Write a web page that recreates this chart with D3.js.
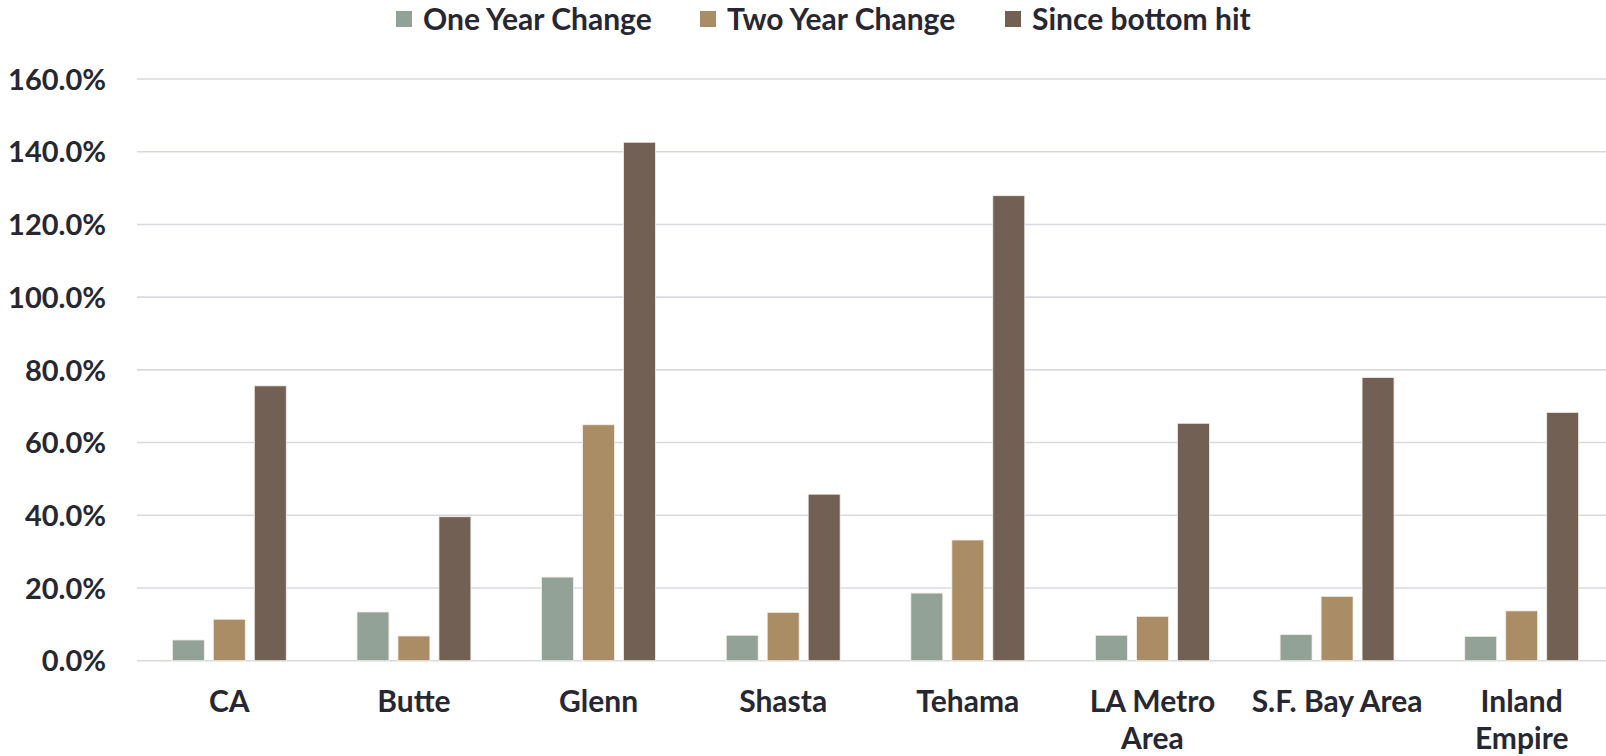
<!DOCTYPE html>
<html>
<head>
<meta charset="utf-8">
<script src="https://cdn.jsdelivr.net/npm/d3@7"></script>
<style>
	html, body { margin: 0; padding: 0; background: #fff; }
	svg { display: block; }
	text { font-family: Lato, 'Open Sans', sans-serif; font-weight: 700; fill: #272731; }
</style>
</head>
<body>
<svg id="chart"></svg>
<script>
const categories = ['CA', 'Butte', 'Glenn', 'Shasta', 'Tehama', 'LA Metro Area', 'S.F. Bay Area', 'Inland Empire']
const categoryLines = [['CA'], ['Butte'], ['Glenn'], ['Shasta'], ['Tehama'], ['LA Metro', 'Area'], ['S.F. Bay Area'], ['Inland', 'Empire']]

const seriesNames = ['One Year Change', 'Two Year Change', 'Since bottom hit']
const seriesColors = ['#93a297', '#ab8d65', '#736055']

// percent values
const oneYear = [5.7, 13.4, 23.0, 7.0, 18.6, 7.0, 7.2, 6.7]
const twoYear = [11.4, 6.8, 64.9, 13.3, 33.2, 12.2, 17.7, 13.7]
const sinceBottom = [75.6, 39.6, 142.6, 45.8, 127.9, 65.3, 77.9, 68.3]

const yTicks = [0, 20, 40, 60, 80, 100, 120, 140, 160]

const width = 1606
const height = 756

const $svg = d3.select('#chart')
	.attr('width', width)
	.attr('height', height)

const $gGrid = $svg.append('g').attr('class', 'g-grid')
const $gAxes = $svg.append('g').attr('class', 'g-axes')
const $gViz = $svg.append('g').attr('class', 'g-viz')
const $gLegend = $svg.append('g').attr('class', 'g-legend')

const scaleX = d3.scaleBand()
const scaleSeries = d3.scaleBand()
const scaleY = d3.scaleLinear()

function buildRows() {
	return categories.map((c, i) => ({
		category: c,
		lines: categoryLines[i],
		values: [oneYear[i], twoYear[i], sinceBottom[i]]
	}))
}

function setupScales() {
	scaleX
		.domain(categories)
		.range([137, 1614])
		.paddingInner(0.383)
		.paddingOuter(0.1915)

	scaleSeries
		.domain(d3.range(seriesNames.length))
		.range([0, scaleX.bandwidth()])
		.paddingInner(0.22)
		.paddingOuter(0)

	scaleY
		.domain([0, 160])
		.range([660.7, 79])
}

function drawGrid() {
	$gGrid.selectAll('line')
		.data(yTicks)
		.join('line')
		.attr('x1', scaleX.range()[0])
		.attr('x2', scaleX.range()[1])
		.attr('y1', d => scaleY(d))
		.attr('y2', d => scaleY(d))
		.attr('stroke', '#dad9e1')
		.attr('stroke-width', 1.6)
}

function drawAxes() {
	const axisY = d3.axisLeft(scaleY)
		.tickValues(yTicks)
		.tickFormat(d => d3.format('.1f')(d) + '%')
		.tickSize(0)
		.tickPadding(0)

	$gAxes.append('g')
		.attr('transform', 'translate(106,0)')
		.call(axisY)
		.call(g => g.select('.domain').remove())
		.selectAll('text')
		.attr('font-size', 29)
		.attr('font-family', null)
		.attr('dy', '0.35em')

	const $label = $gAxes.append('g')
		.selectAll('text')
		.data(buildRows())
		.join('text')
		.attr('text-anchor', 'middle')
		.attr('font-size', 30)
		.attr('x', d => scaleX(d.category) + scaleX.bandwidth() / 2)
		.attr('y', 712)

	$label.selectAll('tspan')
		.data(d => d.lines)
		.join('tspan')
		.attr('x', function () { return d3.select(this.parentNode).attr('x') })
		.attr('dy', (d, i) => i === 0 ? 0 : 37)
		.text(d => d)
}

function drawBars() {
	const $group = $gViz.selectAll('g.group')
		.data(buildRows())
		.join('g')
		.attr('class', 'group')
		.attr('transform', d => `translate(${scaleX(d.category)},0)`)

	$group.selectAll('rect')
		.data(d => d.values)
		.join('rect')
		.attr('x', (d, i) => scaleSeries(i))
		.attr('width', scaleSeries.bandwidth())
		.attr('y', d => scaleY(d))
		.attr('height', d => scaleY(0) - scaleY(d))
		.attr('fill', (d, i) => seriesColors[i])
		.attr('stroke', '#f4efe9')
		.attr('stroke-width', 0.8)
}

function drawLegend() {
	const starts = [396, 700, 1005]

	const $item = $gLegend.selectAll('g.item')
		.data(seriesNames)
		.join('g')
		.attr('class', 'item')
		.attr('transform', (d, i) => `translate(${starts[i]},0)`)

	$item.append('rect')
		.attr('x', 0)
		.attr('y', 11)
		.attr('width', 16)
		.attr('height', 16)
		.attr('fill', (d, i) => seriesColors[i])

	$item.append('text')
		.attr('x', 27)
		.attr('y', 19)
		.attr('dy', '0.35em')
		.attr('font-size', 30)
		.text(d => d)
}

function init() {
	setupScales()
	drawGrid()
	drawBars()
	drawAxes()
	drawLegend()
}

init()
</script>
</body>
</html>
